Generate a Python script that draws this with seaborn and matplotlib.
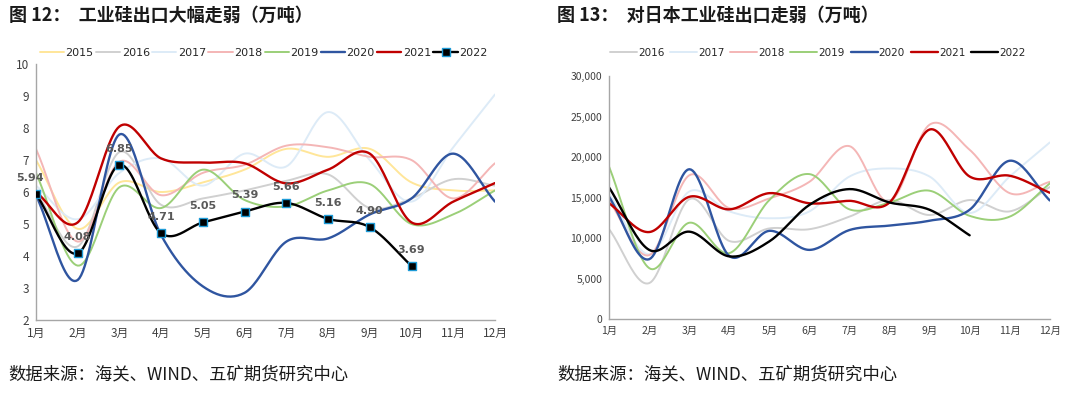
import numpy as np
import pandas as pd
import seaborn as sns
import matplotlib.pyplot as plt
from matplotlib.ticker import FuncFormatter

# ==========================================
# data
# ==========================================
months = ["1月", "2月", "3月", "4月", "5月", "6月", "7月", "8月", "9月", "10月", "11月", "12月"]

# 工业硅出口（万吨）
exp_2015 = [7.0, 4.85, 6.3, 6.0, 6.3, 6.7, 7.35, 7.1, 7.35, 6.3, 6.05, 6.05]
exp_2016 = [6.0, 4.3, 7.25, 5.6, 5.8, 6.05, 6.35, 6.55, 5.5, 5.8, 6.4, 6.2]
exp_2017 = [6.2, 5.15, 6.6, 7.05, 6.2, 7.2, 6.8, 8.5, 7.0, 5.7, 7.4, 9.05]
exp_2018 = [7.35, 4.45, 6.95, 5.9, 6.6, 6.85, 7.45, 7.4, 7.1, 7.0, 5.8, 6.9]
exp_2019 = [6.6, 3.7, 6.15, 5.5, 6.7, 5.75, 5.55, 6.05, 6.25, 5.0, 5.3, 6.05]
exp_2020 = [5.9, 3.25, 7.8, 4.65, 3.05, 2.85, 4.45, 4.55, 5.3, 5.8, 7.2, 5.7]
exp_2021 = [6.0, 5.05, 8.05, 7.05, 6.92, 6.9, 6.27, 6.7, 7.2, 5.05, 5.7, 6.28]
exp_2022 = [5.94, 4.08, 6.85, 4.71, 5.05, 5.39, 5.66, 5.16, 4.90, 3.69]

# 对日本工业硅出口（吨）
jp_2016 = [11100, 4450, 14800, 9650, 11200, 11100, 12650, 14700, 12850, 14700, 13300, 16300]
jp_2017 = [15500, 8000, 15750, 13300, 12450, 13300, 17600, 18600, 17600, 13100, 17600, 21800]
jp_2018 = [14600, 7900, 17750, 13700, 14900, 16950, 21350, 14500, 24000, 20900, 15550, 16950]
jp_2019 = [18800, 6300, 11900, 8150, 14700, 17900, 13550, 14400, 15850, 12750, 12650, 16750]
jp_2020 = [15100, 7400, 18500, 7800, 10900, 8550, 11000, 11550, 12150, 13500, 19550, 14650]
jp_2021 = [14300, 10750, 15100, 13550, 15550, 14300, 14600, 14400, 23400, 17600, 17700, 15600]
jp_2022 = [16250, 8550, 10800, 7750, 9600, 14100, 16050, 14400, 13500, 10350]

colors = {
    "2015": "#FFE699",
    "2016": "#D0D0D0",
    "2017": "#DDEBF7",
    "2018": "#F4B6B6",
    "2019": "#9BCF78",
    "2020": "#2F55A0",
    "2021": "#C00000",
    "2022": "#000000",
}

# ==========================================
# helpers
# ==========================================

def smooth(vals, n=24):
    # catmull-rom curve through the monthly points (excel "smoothed line" look)
    y = np.asarray(vals, dtype=float)
    x = np.arange(len(y), dtype=float)
    xp = np.concatenate([[2 * x[0] - x[1]], x, [2 * x[-1] - x[-2]]])
    yp = np.concatenate([[2 * y[0] - y[1]], y, [2 * y[-1] - y[-2]]])
    xs, ys = [], []
    t = np.linspace(0, 1, n, endpoint=False)
    for i in range(1, len(xp) - 2):
        for arr, out in ((xp, xs), (yp, ys)):
            p0, p1, p2, p3 = arr[i - 1], arr[i], arr[i + 1], arr[i + 2]
            out.extend(0.5 * ((2 * p1) + (-p0 + p2) * t
                              + (2 * p0 - 5 * p1 + 4 * p2 - p3) * t ** 2
                              + (-p0 + 3 * p1 - 3 * p2 + p3) * t ** 3))
    xs.append(x[-1])
    ys.append(y[-1])
    return np.array(xs), np.array(ys)


def style_axis(ax, fs):
    for s in ["top", "right"]:
        ax.spines[s].set_visible(False)
    for s in ["left", "bottom"]:
        ax.spines[s].set_color("#A6A6A6")
        ax.spines[s].set_linewidth(1.0)
    ax.tick_params(axis="both", which="both", length=3, width=0.8, color="#A6A6A6",
                   labelsize=fs, labelcolor="#404040", pad=2)
    ax.set_xticks(range(12))
    ax.set_xticklabels(months)
    ax.set_xlim(0, 11)
    ax.grid(False)


sns.set_style("white")
plt.rcParams["font.family"] = ["Noto Sans CJK SC", "DejaVu Sans"]

fig = plt.figure(figsize=(10.8, 3.98), dpi=100)
ax1 = fig.add_axes([0.0333, 0.196, 0.425, 0.643])
ax2 = fig.add_axes([0.564, 0.198, 0.408, 0.611])

# ==========================================
# left chart: 工业硅出口
# ==========================================
left_series = {
    "2015": exp_2015, "2016": exp_2016, "2017": exp_2017, "2018": exp_2018,
    "2019": exp_2019, "2020": exp_2020, "2021": exp_2021, "2022": exp_2022,
}
handles = []
for year, vals in left_series.items():
    xs, ys = smooth(vals)
    lw = 1.7 if year in ("2020", "2021", "2022") else 1.4
    line, = ax1.plot(xs, ys, color=colors[year], lw=lw, label=year, zorder=3 if year == "2022" else 2)
    handles.append(line)

df22 = pd.DataFrame({"m": range(len(exp_2022)), "v": exp_2022})
sns.scatterplot(data=df22, x="m", y="v", ax=ax1, marker="s", s=38, color="black",
                edgecolor="#1E9BD7", linewidth=1.0, zorder=4, legend=False)
for i, v in enumerate(exp_2022):
    dx = -4 if i == 0 else 0
    ax1.annotate(f"{v:.2f}", (i, v), xytext=(dx, 8), textcoords="offset points",
                 ha="center", va="bottom", fontsize=8, fontweight="bold", color="#595959",
                 family=["DejaVu Sans"], zorder=5)

handles[-1] = plt.Line2D([], [], color="black", lw=1.7, marker="s", markersize=6,
                         markerfacecolor="black", markeredgecolor="#1E9BD7")
ax1.set_ylim(2, 10)
ax1.set_yticks(range(2, 11))
style_axis(ax1, 8.5)
ax1.set_xlabel("")
ax1.set_ylabel("")
ax1.legend(handles, list(left_series.keys()), loc="center", bbox_to_anchor=(0.496, 1.043),
           ncol=8, frameon=False, handlelength=2.2, handletextpad=0.12,
           columnspacing=0.2, borderaxespad=0.0, borderpad=0.0,
           prop={"family": "DejaVu Sans", "size": 8})

# ==========================================
# right chart: 对日本工业硅出口
# ==========================================
right_series = {
    "2016": jp_2016, "2017": jp_2017, "2018": jp_2018, "2019": jp_2019,
    "2020": jp_2020, "2021": jp_2021, "2022": jp_2022,
}
for year, vals in right_series.items():
    xs, ys = smooth(vals)
    lw = 1.7 if year in ("2020", "2021", "2022") else 1.4
    ax2.plot(xs, ys, color=colors[year], lw=lw, label=year)

ax2.set_ylim(0, 30000)
ax2.set_yticks(range(0, 30001, 5000))
ax2.yaxis.set_major_formatter(FuncFormatter(lambda v, p: f"{int(v):,}"))
style_axis(ax2, 7.5)
ax2.legend(loc="center", bbox_to_anchor=(0.473, 1.095), ncol=7, frameon=False,
           handlelength=2.6, handletextpad=0.1, columnspacing=0.55,
           borderaxespad=0.0, borderpad=0.0,
           prop={"family": "DejaVu Sans", "size": 7.5})

# ==========================================
# titles and source notes
# ==========================================
fig.text(0.008, 0.962, "图 12：  工业硅出口大幅走弱（万吨）", fontsize=13, fontweight="bold",
         va="center", ha="left", color="#1A1A1A")
fig.text(0.516, 0.962, "图 13：  对日本工业硅出口走弱（万吨）", fontsize=13, fontweight="bold",
         va="center", ha="left", color="#1A1A1A")
fig.text(0.008, 0.06, "数据来源：海关、WIND、五矿期货研究中心", fontsize=12.5,
         va="center", ha="left", color="#1A1A1A")
fig.text(0.516, 0.06, "数据来源：海关、WIND、五矿期货研究中心", fontsize=12.5,
         va="center", ha="left", color="#1A1A1A")

fig.savefig("out.png", dpi=100)
